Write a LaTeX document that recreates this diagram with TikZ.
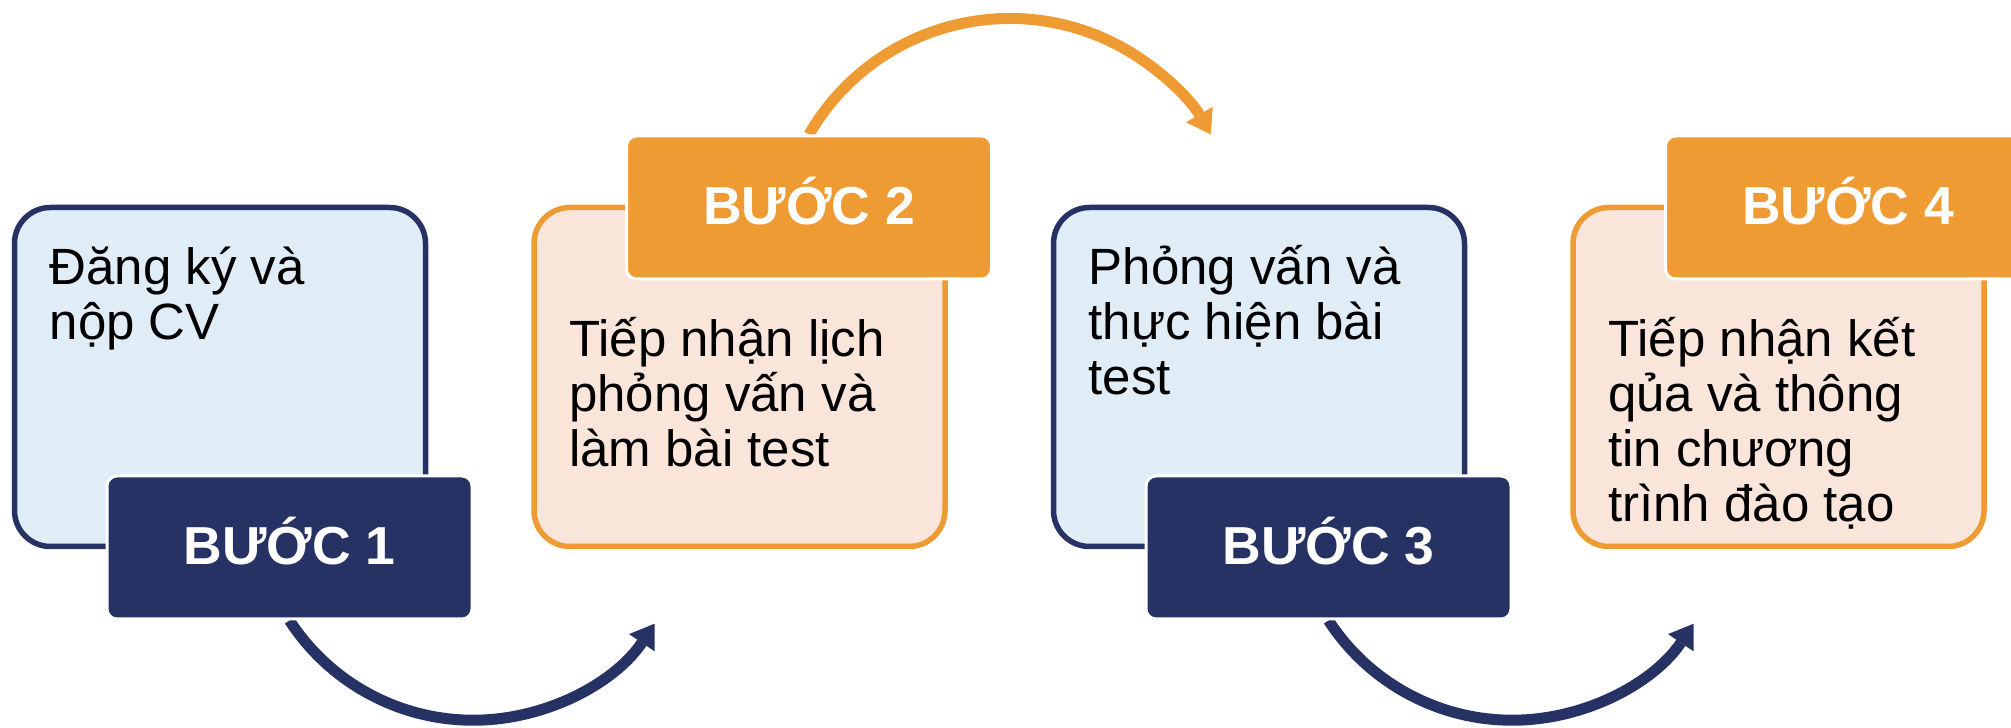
\documentclass[tikz,border=0pt]{standalone}
\usepackage{fontspec}
\setmainfont{Liberation Sans}
\usetikzlibrary{arrows.meta,backgrounds}
\definecolor{navy}{RGB}{39,50,100}
\definecolor{orng}{RGB}{239,155,51}
\definecolor{lblue}{RGB}{224,237,247}
\definecolor{peach}{RGB}{250,229,218}
\begin{document}
\begin{tikzpicture}[x=1pt,y=1pt,
  stepbox/.style={rectangle, rounded corners=36pt, line width=5.5pt, minimum width=411pt, minimum height=339pt, inner sep=0pt},
  bluebox/.style={stepbox, draw=navy, fill=lblue},
  peachbox/.style={stepbox, draw=orng, fill=peach},
  tagbox/.style={rectangle, rounded corners=10pt, draw=white, line width=3pt, minimum width=365pt, minimum height=143pt, inner sep=0pt},
  navytag/.style={tagbox, fill=navy},
  orangetag/.style={tagbox, fill=orng},
  tagtext/.style={anchor=base, text=white, font=\fontsize{53.5}{60}\selectfont\bfseries, inner sep=0pt},
  bodytext/.style={anchor=base west, inner sep=0pt, font=\fontsize{51}{55}\selectfont, text=black},
  navyarc/.style={draw=navy, line width=11pt, -{Triangle[length=23pt,width=31pt,line width=0pt]}},
  orangearc/.style={draw=orng, line width=11pt, -{Triangle[length=23pt,width=31pt,line width=0pt]}},
]
\useasboundingbox (0,0) rectangle (2011,728);

% main boxes
\node[bluebox]  (b1) at (220,351) {};
\node[peachbox] (b2) at (739.5,351) {};
\node[bluebox]  (b3) at (1259,351) {};
\node[peachbox] (b4) at (1778.5,351) {};

% tags
\node[navytag]   (l1) at (289.5,180.5) {};
\node[orangetag] (l2) at (809,520.5) {};
\node[navytag]   (l3) at (1328.5,180.5) {};
\node[orangetag] (l4) at (1848,520.5) {};

\node[tagtext] (k1) at (289.5,163) {BƯỚC 1};
\node[tagtext] (k2) at (809,503) {BƯỚC 2};
\node[tagtext] (k3) at (1328.5,163) {BƯỚC 3};
\node[tagtext] (k4) at (1848,503) {BƯỚC 4};

% body texts
\node[bodytext] (t1) at (49.5,443) {\parbox[t]{380pt}{\raggedright Đăng ký và\\nộp CV}};
\node[bodytext] (t2) at (569,371) {\parbox[t]{380pt}{\raggedright Tiếp nhận lịch\\phỏng vấn và\\làm bài test}};
\node[bodytext] (t3) at (1088.5,443) {\parbox[t]{380pt}{\raggedright Phỏng vấn và\\thực hiện bài\\test}};
\node[bodytext] (t4) at (1608,371) {\parbox[t]{380pt}{\raggedright Tiếp nhận kết\\qủa và thông\\tin chương\\trình đào tạo}};

% arcs behind
\begin{scope}[on background layer]
\fill[white] (0,0) rectangle (2011,728);
\draw[navyarc] (l1.south) arc[start angle=213, end angle=326, radius=219];
\draw[orangearc] (l2.north) arc[start angle=150, end angle=30, radius=232];
\draw[navyarc] (l3.south) arc[start angle=213, end angle=326, radius=219];
\end{scope}
\end{tikzpicture}
\end{document}
